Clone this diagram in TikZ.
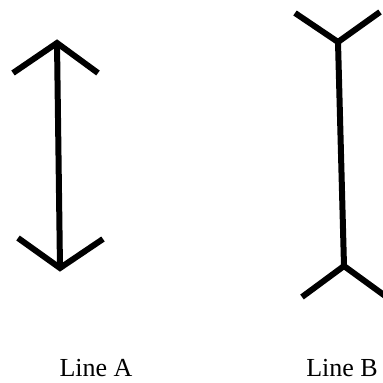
\documentclass[tikz,border=0pt]{standalone}
\usepackage{fontspec}
\setmainfont{Liberation Serif}
\usepackage{tikz}
\usetikzlibrary{positioning}

\begin{document}
\begin{tikzpicture}[
    x=1pt, y=-1pt,
    fin/.style={line width=6pt, line join=miter},
    shaft/.style={line width=6pt},
    caption/.style={font=\fontsize{26}{30}\selectfont, inner sep=0pt, anchor=base}
]
\useasboundingbox (0,0) rectangle (383,383);

% Line A: fins pointing outwards
\coordinate (atop) at (57,43);
\coordinate (atopl) at (13,73);
\coordinate (atopr) at (98,73);
\coordinate (abot) at (60,268);
\coordinate (abotl) at (18,238);
\coordinate (abotr) at (103,239);

\draw[shaft] (atop) -- (abot);
\draw[fin] (atopl) -- (atop) -- (atopr);
\draw[fin] (abotl) -- (abot) -- (abotr);

% Line B: fins pointing inwards
\coordinate (btop) at (338,42);
\coordinate (btopl) at (295,13);
\coordinate (btopr) at (380,12);
\coordinate (bbot) at (344,266);
\coordinate (bbotl) at (302,297);
\coordinate (bbotr) at (388,298);

\draw[shaft] (btop) -- (bbot);
\draw[fin] (btopl) -- (btop) -- (btopr);
\draw[fin] (bbotl) -- (bbot) -- (bbotr);

\node[caption] (capa) at (96,376) {Line A};
\node[caption] (capb) at (342,376) {Line B};
\end{tikzpicture}
\end{document}
